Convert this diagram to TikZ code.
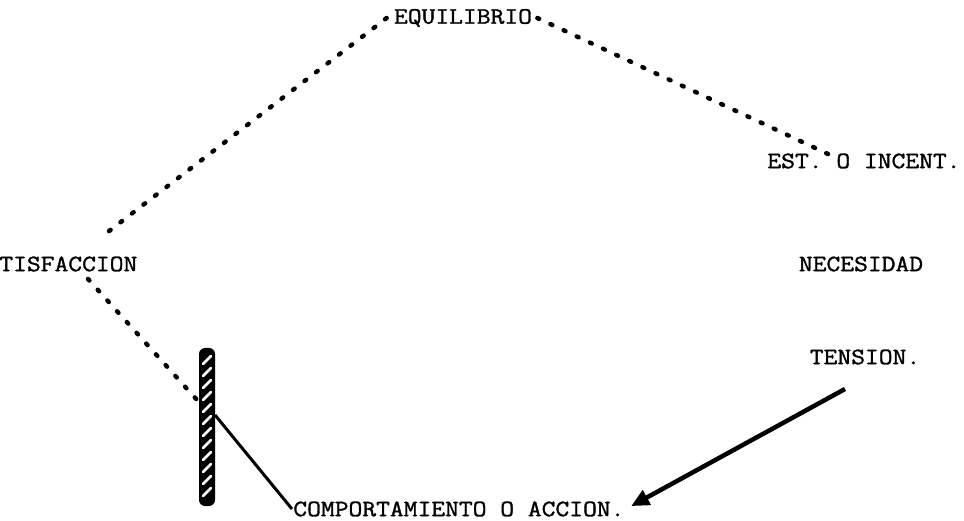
\documentclass[tikz,border=0pt]{standalone}
\usepackage{fontspec}
\newfontfamily\tw[FakeBold=1.2]{Latin Modern Mono}
\usetikzlibrary{arrows.meta}
\begin{document}
\begin{tikzpicture}[x=1pt,y=-1pt,
  lbl/.style={font=\tw\fontsize{23.5}{26}\selectfont, inner sep=1pt, xscale=1.14},
  dotline/.style={line width=4.5pt, line cap=round, dash pattern=on 2pt off 12.5pt},
  solidline/.style={line width=3pt},
  arrowline/.style={line width=4.5pt, -{Triangle[length=18pt,width=16pt]}, shorten >=6pt}]
\useasboundingbox (0,0) rectangle (964,521);
\node[lbl] (equi) at (463,18) {EQUILIBRIO};
\node[lbl] (est) at (864,161) {EST. O INCENT.};
\node[lbl, anchor=west] (sat) at (-2,264) {TISFACCION};
\node[lbl] (nec) at (861,264) {NECESIDAD};
\node[lbl] (ten) at (865,357) {TENSION.};
\node[lbl, anchor=west] (comp) at (292,509) {COMPORTAMIENTO O ACCION.};
\coordinate (apex) at (100,238);
\coordinate (lowapex) at (88,279);
\coordinate (barhit) at (198,401);
\coordinate (barjoin) at (215,415);
\coordinate (tstart) at (845,389);
% dotted connectors
\draw[dotline] ([xshift=-6pt]equi.west) -- (apex);
\draw[dotline] ([xshift=4pt]equi.east) -- (828,154);
\draw[dotline] (lowapex) -- (barhit);
% hatched bar
\fill[black, rounded corners=6pt] (199,348) rectangle (215,506);
\foreach \yy in {360,372,...,496}{
  \draw[white, line width=2.6pt, line cap=round] (203,\yy+4) -- (211,\yy-4);
}
% lines
\draw[solidline] (barjoin) -- (comp.west);
\draw[arrowline] (tstart) -- (comp.east);
\end{tikzpicture}
\end{document}
